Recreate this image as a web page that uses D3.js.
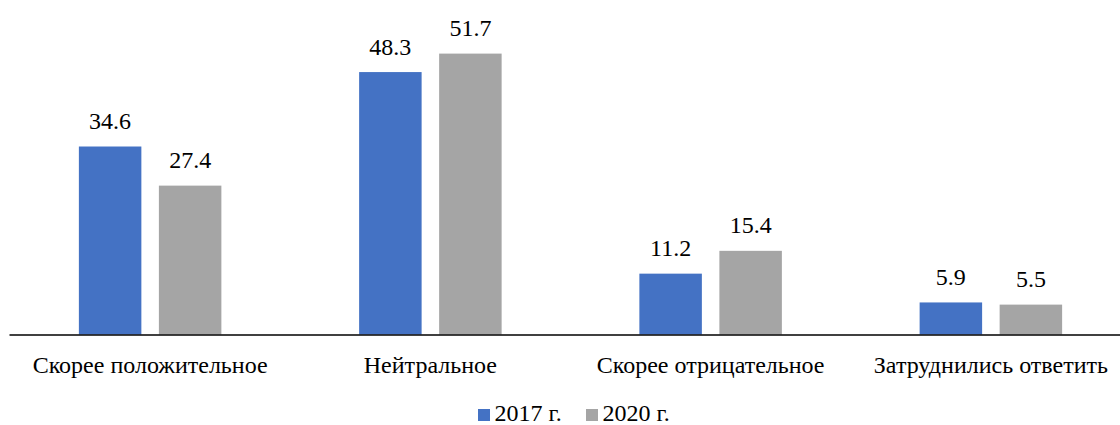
<!DOCTYPE html>
<html>
<head>
<meta charset="utf-8">
<script src="https://cdn.jsdelivr.net/npm/d3@7"></script>
<style>
  html, body { margin: 0; padding: 0; background: #fff; }
</style>
</head>
<body>
<div id="chart"></div>
<script>
// data
const categories = ["Скорее положительное", "Нейтральное", "Скорее отрицательное", "Затруднились ответить"];
const seriesNames = ["2017 г.", "2020 г."];
const values2017 = [34.6, 48.3, 11.2, 5.9];
const values2020 = [27.4, 51.7, 15.4, 5.5];
const seriesColors = ["#4472C4", "#A5A5A5"];

const width = 1120, height = 425;
const baseline = 334.5;
const fontSize = 24;
const fontFamily = "'Liberation Serif', Tinos, 'Times New Roman', Times, serif";

const svg = d3.select('#chart')
    .append('svg')
    .attr('width', width)
    .attr('height', height);

const x0 = d3.scaleBand()
    .domain(categories)
    .range([10, 1131])
    .padding(0);

const groupWidth = 142.5;
const x1 = d3.scaleBand()
    .domain(seriesNames)
    .range([0, groupWidth])
    .paddingInner(0.219);

const y = d3.scaleLinear()
    .domain([0, 60])
    .range([baseline, baseline - 326]);

const rows = [];
categories.forEach((c, i) => {
    rows.push({cat: c, series: seriesNames[0], value: values2017[i], color: seriesColors[0]});
    rows.push({cat: c, series: seriesNames[1], value: values2020[i], color: seriesColors[1]});
});

const barX = d => x0(d.cat) + (x0.bandwidth() - groupWidth) / 2 + x1(d.series);

// a text placed in its own group, centred by its measured width
function label(parent, data, pos, txt) {
    const g = parent.selectAll(null)
        .data(data)
        .enter().append("g")
        .attr("transform", d => `translate(${pos(d)[0]},${pos(d)[1]})`);
    g.append("text")
        .attr("x", 0)
        .attr("y", 0)
        .style("font-family", fontFamily)
        .style("font-size", fontSize + "px")
        .attr("fill", "#000")
        .text(txt)
        .each(function() {
            d3.select(this).attr("x", -this.getComputedTextLength() / 2);
        });
    return g;
}

svg.append("g").selectAll(null)
    .data(rows)
    .enter().append("rect")
    .attr("x", barX)
    .attr("y", d => y(d.value))
    .attr("width", x1.bandwidth())
    .attr("height", d => y(0) - y(d.value))
    .attr("fill", d => d.color);

// value labels
label(svg.append("g"), rows,
    d => [barX(d) + x1.bandwidth() / 2, y(d.value) - 17.5],
    d => d.value.toFixed(1));

// axis line
svg.append("line")
    .attr("x1", 9.5)
    .attr("x2", width)
    .attr("y1", baseline + 0.5)
    .attr("y2", baseline + 0.5)
    .attr("stroke", "#000")
    .attr("stroke-width", 1.5);

// category labels
label(svg.append("g"), categories,
    d => [x0(d) + x0.bandwidth() / 2, 372.5],
    d => d);

// legend
const legendItems = [
    {name: seriesNames[0], color: seriesColors[0], x: 478},
    {name: seriesNames[1], color: seriesColors[1], x: 586}
];
const legend = svg.append("g").selectAll(null)
    .data(legendItems)
    .enter().append("g")
    .attr("transform", d => `translate(${d.x},409)`);
legend.append("rect")
    .attr("width", 12)
    .attr("height", 12)
    .attr("fill", d => d.color);
legend.append("text")
    .attr("x", 16.5)
    .attr("y", 11.5)
    .style("font-family", fontFamily)
    .style("font-size", fontSize + "px")
    .attr("fill", "#000")
    .text(d => d.name);
</script>
</body>
</html>
